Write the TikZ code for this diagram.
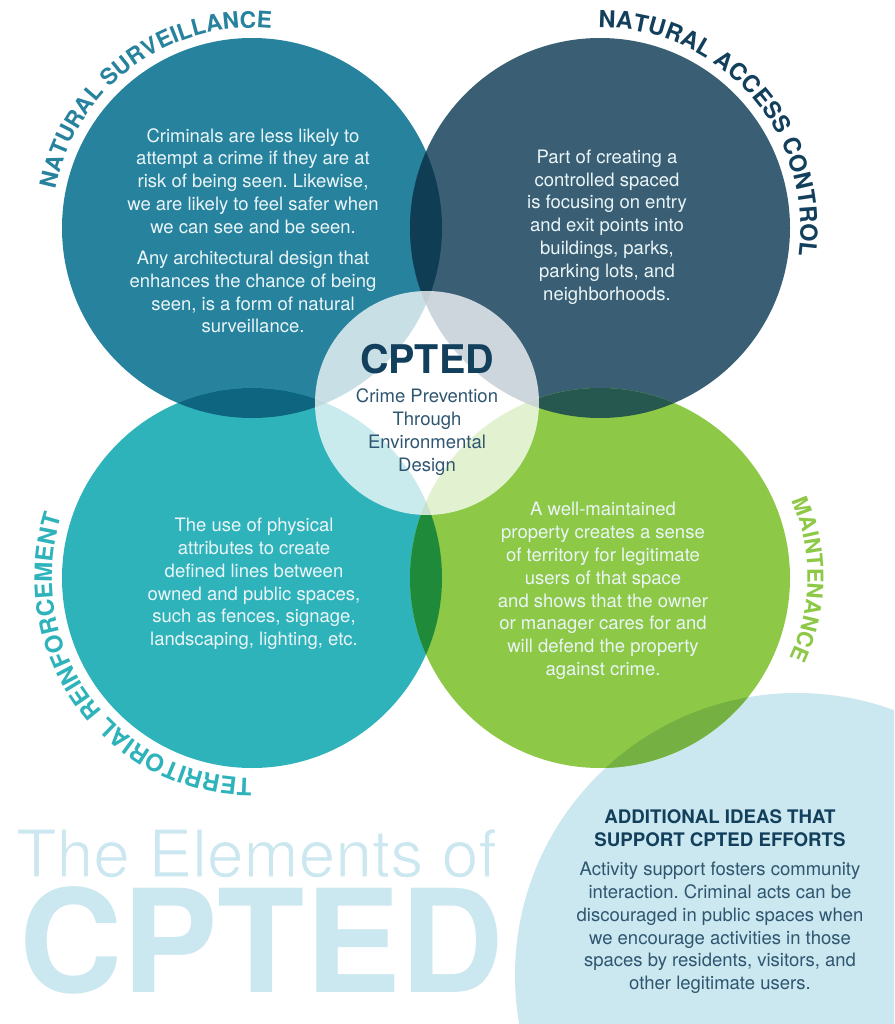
\documentclass[tikz,border=0pt]{standalone}
\usepackage{fontspec}
\setmainfont{TeX Gyre Heros}
\usetikzlibrary{decorations.text}
\definecolor{cTL}{HTML}{27829E}
\definecolor{cTR}{HTML}{3A5F75}
\definecolor{cBL}{HTML}{2FB3BB}
\definecolor{cBR}{HTML}{8DC846}
\definecolor{oTop}{HTML}{0F3D54}
\definecolor{oLeft}{HTML}{0E6580}
\definecolor{oRight}{HTML}{27584F}
\definecolor{oBot}{HTML}{1F8B3A}
\definecolor{pale}{HTML}{CBE7EF}
\definecolor{oPale}{HTML}{74B142}
\definecolor{navy}{HTML}{123F5C}
\definecolor{slate}{HTML}{2F5670}
\definecolor{soft}{HTML}{EAF5F7}
\newcommand{\bodyfont}{\fontsize{18.5}{22.8}\selectfont\frenchspacing}
\tikzset{
  x=1pt,y=-1pt,
  body/.style={font=\bodyfont,align=center,inner sep=0pt,text=soft},
  inner/.style={font=\bodyfont,align=center,inner sep=0pt,text=slate},
}
\newcommand{\arctext}[8]{% cx cy start end radius colour size text
  \path[decorate,decoration={text along path,text align={fit to path},text={|\fontsize{#7}{#7}\selectfont\bfseries\color{#6}|#8}}]
    (#1,#2) ++(#3:#5pt) arc[start angle=#3,end angle=#4,radius=#5pt];}
\begin{document}
\begin{tikzpicture}
\useasboundingbox (0,0) rectangle (894,1024);
\coordinate (tl) at (252,228);
\coordinate (tr) at (600,228);
\coordinate (bl) at (252,578);
\coordinate (br) at (600,578);
\coordinate (mid) at (427,403);
\coordinate (big) at (797,975);
\def\R{190pt}
\def\Rb{282pt}
% pale circle
\begin{scope}
\clip (0,0) rectangle (894,1024);
\fill[pale] (big) circle[radius=\Rb];
\end{scope}
% four circles
\fill[cTL] (tl) circle[radius=\R];
\fill[cTR] (tr) circle[radius=\R];
\fill[cBL] (bl) circle[radius=\R];
\fill[cBR] (br) circle[radius=\R];
\begin{scope}\clip (tl) circle[radius=\R];\fill[oTop] (tr) circle[radius=\R];\end{scope}
\begin{scope}\clip (tl) circle[radius=\R];\fill[oLeft] (bl) circle[radius=\R];\end{scope}
\begin{scope}\clip (tr) circle[radius=\R];\fill[oRight] (br) circle[radius=\R];\end{scope}
\begin{scope}\clip (bl) circle[radius=\R];\fill[oBot] (br) circle[radius=\R];\end{scope}
\begin{scope}\clip (br) circle[radius=\R];\fill[oPale] (big) circle[radius=\Rb];\end{scope}
% centre
\fill[white,opacity=.75] (mid) circle[radius=112pt];
% arc labels
\arctext{252}{228}{169}{84.4}{200}{cTL}{22.8}{NATURAL SURVEILLANCE}
\arctext{600}{228}{90.5}{-8}{200.5}{navy}{23.5}{NATURAL ACCESS CONTROL}
\arctext{252}{578}{270}{163}{200}{cBL}{24}{TERRITORIAL REINFORCEMENT}
\arctext{617}{577}{23.6}{-24.5}{190.5}{cBR}{22}{MAINTENANCE}
% body text
\node[body] (t1) at (253,181) {Criminals are less likely to\\attempt a crime if they are at\\risk of being seen. Likewise,\\we are likely to feel safer when\\we can see and be seen.};
\node[body] (t2) at (253,292) {Any architectural design that\\enhances the chance of being\\seen, is a form of natural\\surveillance.};
\node[body] (t3) at (607,227) {Part of creating a\\controlled spaced\\is focusing on entry\\and exit points into\\buildings, parks,\\parking lots, and\\neighborhoods.};
\node[body] (t4) at (254,584) {The use of physical\\attributes to create\\defined lines between\\owned and public spaces,\\such as fences, signage,\\landscaping, lighting, etc.};
\node[body] (t5) at (603,591) {A well-maintained\\property creates a sense\\of territory for legitimate\\users of that space\\and shows that the owner\\or manager cares for and\\will defend the property\\against crime.};
% centre text
\node[anchor=base,inner sep=0pt,text=navy,font=\fontsize{39.5}{39.5}\selectfont\bfseries] (cp) at (427,373) {CPTED};
\node[inner,anchor=center] (cs) at (427,432) {Crime Prevention\\Through\\Environmental\\Design};
% additional
\node[inner sep=0pt,align=center,text=navy,font=\fontsize{18.7}{23}\selectfont\bfseries] (h) at (720,828) {ADDITIONAL IDEAS THAT\\SUPPORT CPTED EFFORTS};
\node[inner] (a) at (720,928) {Activity support fosters community\\interaction. Criminal acts can be\\discouraged in public spaces when\\we encourage activities in those\\spaces by residents, visitors, and\\other legitimate users.};
% title
\node[anchor=base west,inner sep=0pt,text=pale,font=\fontsize{143}{143}\selectfont\bfseries] (big2) at (19,992) {CPTED};
\node[anchor=base west,inner sep=0pt,text=pale,font=\fontsize{66}{66}\selectfont] (big1) at (16,877) {\special{pdf:code 2 Tr 1.3 w 1 1 1 RG}The Elements of\special{pdf:code 0 Tr}};
\end{tikzpicture}
\end{document}
